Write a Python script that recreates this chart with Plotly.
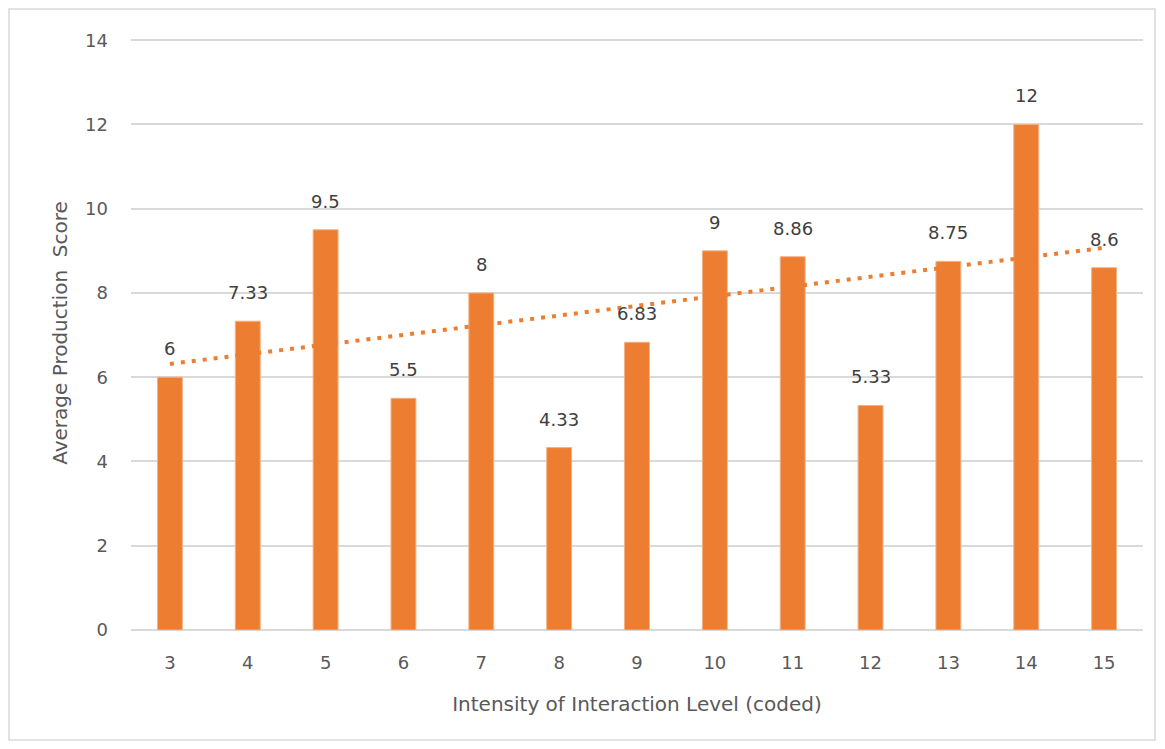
import numpy as np
import plotly.graph_objects as go

categories = [3, 4, 5, 6, 7, 8, 9, 10, 11, 12, 13, 14, 15]
scores = [6, 7.33, 9.5, 5.5, 8, 4.33, 6.83, 9, 8.86, 5.33, 8.75, 12, 8.6]
labels = ["6", "7.33", "9.5", "5.5", "8", "4.33", "6.83", "9", "8.86", "5.33", "8.75", "12", "8.6"]

ORANGE = "#ED7D31"
TXT = "#595959"
FONT = "DejaVu Sans"

idx = np.arange(1, len(categories) + 1)
slope, intercept = np.polyfit(idx, scores, 1)
trend = slope * idx + intercept
xcat = [str(c) for c in categories]

fig = go.Figure()
fig.add_trace(go.Bar(
    x=xcat, y=scores,
    marker=dict(color=ORANGE, line=dict(width=1, color="#F4B183")),
    showlegend=False,
))
fig.add_trace(go.Scatter(
    x=xcat, y=trend, mode="lines",
    line=dict(color=ORANGE, width=4, dash="4px,7px"),
    showlegend=False, hoverinfo="skip",
))
# category axis: annotation x given as the category's position index
for i, (yv, lab) in enumerate(zip(scores, labels)):
    fig.add_annotation(x=i, y=yv, text=lab, showarrow=False, yanchor="bottom",
                       yshift=16, font=dict(family=FONT, size=18, color="#404040"))

# page body has an 8px margin: figure coordinates = screen - 8
W, H = 1149, 733
ml, mr, mt, mb = 123, 14, 28, 111
fig.update_layout(
    width=W, height=H,
    margin=dict(l=ml, r=mr, t=mt, b=mb),
    paper_bgcolor="white", plot_bgcolor="white",
    bargap=0.68,
    font=dict(family=FONT, color=TXT),
    xaxis=dict(
        type="category",
        title=dict(text="Intensity of Interaction Level (coded)", font=dict(size=20, color=TXT), standoff=24),
        tickfont=dict(size=18, color=TXT), showgrid=False, showline=False, ticks="",
        ticklabelstandoff=20,
    ),
    yaxis=dict(
        title=dict(text="Average Production  Score", font=dict(size=20, color=TXT), standoff=12),
        range=[0, 14.1], tickvals=[0, 2, 4, 6, 8, 10, 12, 14], tickfont=dict(size=18, color=TXT),
        showgrid=True, gridcolor="#D9D9D9", gridwidth=1.5,
        zeroline=True, zerolinecolor="#D9D9D9", zerolinewidth=1.5,
        ticks="", ticklabelstandoff=22,
    ),
)
pw = W - ml - mr
ph = H - mt - mb
x0 = (1 - ml) / pw
x1 = (W - 2 - ml) / pw
y0 = (1 - mb) / ph
y1 = (H - 1 - mb) / ph
fig.add_shape(type="rect", xref="paper", yref="paper", x0=x0, x1=x1, y0=y0, y1=y1,
              line=dict(color="#D9D9D9", width=1.5), layer="below")

fig.write_html("out.html")
